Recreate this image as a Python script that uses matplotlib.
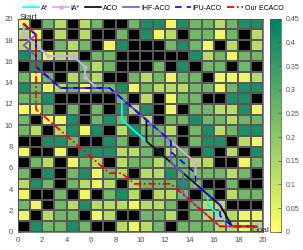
import numpy as np
import matplotlib
matplotlib.use("Agg")
import matplotlib.pyplot as plt

plt.rcParams['font.family'] = ['Liberation Sans', 'DejaVu Sans']

# cell levels (None = obstacle)
B = None
y_, l_, m_, d_ = 0.03, 0.13, 0.25, 0.40

# rows listed from top (y=19) to bottom (y=0), 20 columns each
rows = [
    [y_, B, m_, l_, B, l_, m_, B, B, m_, d_, d_, y_, d_, m_, m_, l_, m_, d_, d_],
    [l_, y_, B, l_, B, l_, B, B, m_, B, d_, y_, l_, B, m_, m_, y_, m_, B, l_],
    [l_, l_, B, m_, l_, m_, B, y_, d_, B, B, B, m_, d_, m_, y_, B, l_, B, l_],
    [d_, m_, y_, l_, l_, B, m_, m_, B, B, B, B, B, B, d_, l_, m_, y_, m_, m_],
    [B, d_, B, B, B, m_, l_, m_, B, B, B, m_, B, d_, B, m_, m_, B, m_, B],
    [m_, y_, m_, B, l_, m_, l_, B, B, m_, l_, m_, y_, m_, m_, B, y_, y_, y_, l_],
    [d_, m_, y_, l_, m_, y_, m_, m_, d_, y_, m_, l_, l_, l_, m_, m_, y_, m_, d_, d_],
    [m_, m_, d_, B, B, B, B, B, m_, B, l_, B, y_, m_, m_, B, B, d_, d_, B],
    [y_, y_, m_, B, m_, B, m_, B, d_, l_, d_, B, y_, B, m_, m_, l_, l_, d_, y_],
    [m_, B, y_, y_, d_, B, m_, d_, m_, B, l_, B, m_, m_, d_, m_, m_, l_, m_, m_],
    [m_, l_, B, l_, d_, y_, d_, B, l_, d_, m_, m_, l_, B, m_, d_, l_, m_, d_, d_],
    [B, B, d_, d_, m_, B, B, d_, m_, B, m_, m_, m_, B, m_, d_, d_, B, l_, y_],
    [y_, B, B, y_, B, d_, d_, d_, l_, l_, m_, B, l_, m_, B, d_, B, l_, B, d_],
    [B, m_, l_, B, y_, m_, l_, B, l_, m_, m_, l_, m_, m_, l_, l_, B, B, y_, m_],
    [m_, B, d_, B, m_, d_, y_, m_, l_, B, l_, l_, d_, m_, m_, m_, m_, l_, m_, B],
    [l_, d_, m_, B, m_, l_, y_, l_, B, l_, m_, m_, m_, d_, m_, B, B, m_, B, B],
    [y_, B, B, m_, B, y_, B, m_, d_, l_, B, l_, l_, m_, B, m_, B, l_, m_, m_],
    [m_, y_, B, m_, l_, d_, l_, l_, l_, y_, l_, l_, m_, B, m_, l_, l_, B, B, B],
    [y_, B, l_, m_, m_, B, y_, l_, B, B, m_, m_, l_, B, m_, l_, l_, l_, y_, y_],
    [B, d_, m_, m_, d_, m_, B, B, l_, y_, l_, m_, B, m_, m_, m_, l_, l_, y_, l_],
]

# paths (turning points, cell centres)
astar_x = [0.5, 0.5, 1.5, 2.5, 4.5, 5.5, 5.5, 6.5, 7.5, 8.5, 8.5, 15.5, 15.5, 17.5, 19.5]
astar_y = [19.5, 18.5, 17.5, 16.5, 16.5, 15.5, 14.5, 13.5, 13.5, 12.5, 10.5, 3.5, 2.5, 0.5, 0.5]

ia_x = [0.5, 0.5, 1.5, 2.5, 4.5, 5.5, 5.5, 6.5, 7.5, 10.5, 14.5, 14.5, 16.5, 16.5, 17.5, 19.5]
ia_y = [19.5, 18.5, 17.5, 16.5, 16.5, 15.5, 14.5, 13.5, 13.5, 10.5, 6.5, 4.5, 2.5, 1.5, 0.5, 0.5]

aco_x = [0.5, 1.5, 1.5, 3.5, 7.5, 10.5, 10.5, 16.5, 17.5, 19.5]
aco_y = [19.5, 18.5, 15.5, 13.5, 13.5, 10.5, 8.5, 2.5, 0.5, 0.5]

ihf_x = [0.5, 1.5, 0.5, 1.5, 1.5, 3.5, 7.5, 10.5, 12.5, 12.5, 13.5, 13.5, 16.5, 19.5]
ihf_y = [19.5, 18.5, 17.5, 16.5, 15.5, 13.5, 13.5, 10.5, 8.5, 6.5, 5.5, 3.5, 0.5, 0.5]

ipu_x = [0.5, 1.5, 1.5, 3.5, 7.5, 10.5, 12.5, 12.5, 14.5, 14.5, 16.5, 16.5, 17.5, 19.5]
ipu_y = [19.5, 18.5, 15.5, 13.5, 13.5, 10.5, 8.5, 7.5, 5.5, 4.5, 2.5, 1.5, 0.5, 0.5]

ec_x = [0.5, 1.5, 1.5, 7.5, 8.5, 9.5, 12.5, 16.5, 19.5]
ec_y = [19.5, 18.5, 11.5, 5.5, 5.5, 4.5, 4.5, 0.5, 0.5]

cbar_ticks = [0, 0.05, 0.1, 0.15, 0.2, 0.25, 0.3, 0.35, 0.4, 0.45]
cbar_labels = ['0', '0.05', '0.1', '0.15', '0.2', '0.25', '0.3', '0.35', '0.4', '0.45']

grid = np.array([[np.nan if v is None else v for v in r] for r in rows[::-1]])
grid = np.ma.masked_invalid(grid)

fig = plt.figure(figsize=(3.03, 2.5), dpi=100)
ax = fig.add_axes([0.058, 0.073, 0.81, 0.852])
cax = fig.add_axes([0.892, 0.073, 0.034, 0.852])

cmap = plt.get_cmap('summer_r').copy()
cmap.set_bad('black')
mesh = ax.pcolormesh(np.arange(21), np.arange(21), grid, cmap=cmap, vmin=0, vmax=0.45,
                     edgecolors='0.35', linewidth=0.3)

ax.plot(astar_x, astar_y, color='cyan', lw=1.2, label='A*')
ax.plot(ia_x, ia_y, color='#d8a8e0', lw=1.2, marker='o', ms=2.2, label='IA*')
ax.plot(aco_x, aco_y, color='black', lw=1.2, label='ACO')
ax.plot(ihf_x, ihf_y, color='#7b4fd6', lw=1.2, label='IHF-ACO')
ax.plot(ipu_x, ipu_y, color='blue', lw=1.2, ls=(0, (4, 3)), label='IPU-ACO')
ax.plot(ec_x, ec_y, color='red', lw=1.3, ls=(0, (4, 1.5, 1, 1.5)), label='Our ECACO')

ax.text(0.2, 20.1, 'Start', fontsize=6, va='center', ha='left', color='0.15', clip_on=False)
ax.text(19.1, 0.1, 'Goal', fontsize=6, va='center', ha='left', color='0.15', clip_on=False)

ax.set_xlim(0, 20)
ax.set_ylim(0, 20)
ax.set_xticks(range(0, 21, 2))
ax.set_yticks(range(0, 21, 2))
ax.tick_params(labelsize=5.5, colors='0.3', direction='in', length=2, width=0.5)
for s in ax.spines.values():
    s.set_linewidth(0.5)
    s.set_color('0.3')

cb = fig.colorbar(mesh, cax=cax)
cb.set_ticks(cbar_ticks)
cb.set_ticklabels(cbar_labels)
cb.ax.tick_params(labelsize=5, colors='0.3', direction='in', length=2, width=0.5)
cb.outline.set_linewidth(0.5)
cb.outline.set_edgecolor('0.3')

fig.legend(loc='center', bbox_to_anchor=(0.505, 0.968), ncol=6, frameon=False, fontsize=5,
           handlelength=2.3, handletextpad=0.3, columnspacing=0.7, borderpad=0)

fig.savefig('out.png', dpi=100)
